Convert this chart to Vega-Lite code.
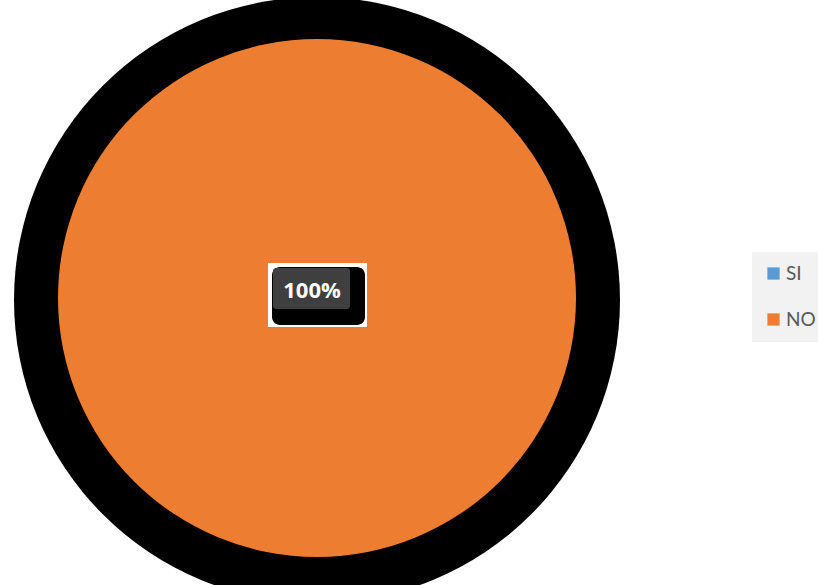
{
  "$schema": "https://vega.github.io/schema/vega-lite/v6.json",
  "width": 818,
  "height": 585,
  "autosize": {"type": "none"},
  "padding": 0,
  "background": "white",
  "config": {"view": {"stroke": null}},
  "data": {"values": [
    {"category": "SI", "value": 0, "label": ""},
    {"category": "NO", "value": 100, "label": "100%"}
  ]},
  "layer": [
    {
      "mark": {"type": "arc", "radius": 303, "color": "black"},
      "encoding": {
        "theta": {"field": "value", "type": "quantitative", "stack": true},
        "x": {"value": 317},
        "y": {"value": 300}
      }
    },
    {
      "mark": {"type": "arc", "radius": 259},
      "encoding": {
        "theta": {"field": "value", "type": "quantitative", "stack": true},
        "x": {"value": 317},
        "y": {"value": 298},
        "color": {
          "field": "category",
          "type": "nominal",
          "sort": null,
          "scale": {"domain": ["SI", "NO"], "range": ["#5B9BD5", "#ED7D31"]},
          "legend": {
            "title": null,
            "orient": "none",
            "legendX": 752,
            "legendY": 252,
            "padding": 12,
            "fillColor": "#F2F2F2",
            "symbolType": "square",
            "symbolSize": 150,
            "symbolStrokeWidth": 0,
            "labelFontSize": 19,
            "labelFont": "Lato",
            "labelColor": "#595959",
            "labelOffset": 3,
            "labelLimit": 200,
            "rowPadding": 26
          }
        }
      }
    },
    {
      "transform": [{"filter": "datum.value > 0"}],
      "mark": {"type": "rect", "color": "white"},
      "encoding": {"x": {"value": 268}, "x2": {"value": 367}, "y": {"value": 263}, "y2": {"value": 327}}
    },
    {
      "transform": [{"filter": "datum.value > 0"}],
      "mark": {"type": "rect", "color": "black", "cornerRadius": 8},
      "encoding": {"x": {"value": 272}, "x2": {"value": 365}, "y": {"value": 267}, "y2": {"value": 325}}
    },
    {
      "transform": [{"filter": "datum.value > 0"}],
      "mark": {"type": "rect", "color": "#3F3F3F", "cornerRadius": 3},
      "encoding": {"x": {"value": 273}, "x2": {"value": 350}, "y": {"value": 268}, "y2": {"value": 309}}
    },
    {
      "transform": [{"filter": "datum.value > 0"}],
      "mark": {"type": "text", "color": "white", "fontSize": 22, "fontWeight": "bold", "font": "Open Sans", "align": "center", "baseline": "middle"},
      "encoding": {"text": {"field": "label"}, "x": {"value": 312}, "y": {"value": 291}}
    }
  ]
}
